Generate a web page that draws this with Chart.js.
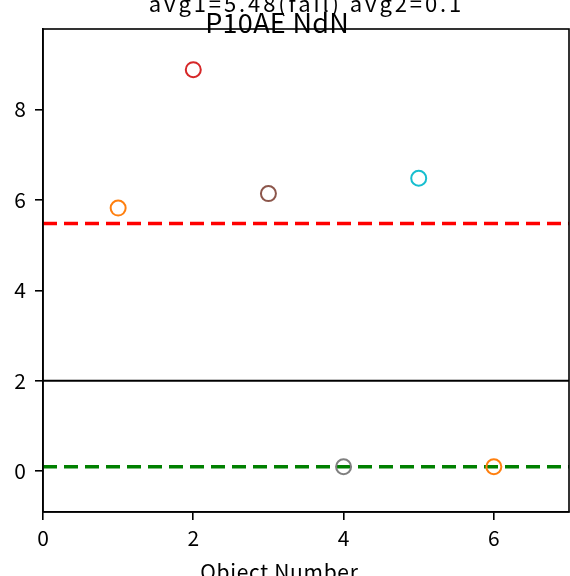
<!DOCTYPE html>
<html>
<head>
<meta charset="utf-8">
<script src="https://cdn.jsdelivr.net/npm/chart.js@4/dist/chart.umd.min.js"></script>
<style>
	body { margin: 0; background: #fff; overflow: hidden; }
	canvas { display: block; }
</style>
</head>
<body>
<canvas id="scatterChart" width="570" height="576"></canvas>
<script>
// values
const objectNumbers = [1, 2, 3, 4, 5, 6];
const objectValues = [5.82, 8.88, 6.14, 0.1, 6.48, 0.1];
const avg1 = 5.48;
const avg2 = 0.1;
const limitValue = 2;
const xTickValues = [0, 2, 4, 6];
const yTickValues = [0, 2, 4, 6, 8];
const titleTop = 'avg1=5.48(fail) avg2=0.1';
const titleMain = 'P10AE NdN';
const xLabel = 'Object Number';

const pointColors = ['#ff7f0e', '#d62728', '#8c564b', '#7f7f7f', '#17becf', '#ff7f0e'];
const fontFamily = '"Noto Sans CJK JP", "Noto Sans", sans-serif';

window.onload = function () {
	const xMin = 0, xMax = 7;
	const points = objectNumbers.map((x, i) => ({ x: x, y: objectValues[i] }));
	const hLine = v => [{ x: xMin, y: v }, { x: xMax, y: v }];

	const drawSpaced = (ctx, text, cx, y, spacing) => {
		ctx.letterSpacing = spacing + 'px';
		const w = ctx.measureText(text).width - spacing;
		ctx.textAlign = 'left';
		ctx.fillText(text, cx - w / 2, y);
		ctx.letterSpacing = '0px';
	};

	const textPlugin = {
		id: 'textPlugin',
		afterDraw(chart) {
			const ctx = chart.ctx;
			const a = chart.chartArea;
			ctx.save();
			ctx.strokeStyle = '#000';
			ctx.lineWidth = 1.6;
			ctx.strokeRect(a.left, a.top, a.right - a.left, a.bottom - a.top);
			ctx.fillStyle = '#000';
			ctx.textBaseline = 'alphabetic';
			ctx.font = '22px ' + fontFamily;
			drawSpaced(ctx, titleTop, 305, 12, 2.9);
			ctx.font = '27px ' + fontFamily;
			drawSpaced(ctx, titleMain, 277, 33, 0.3);
			ctx.font = '21px ' + fontFamily;
			drawSpaced(ctx, xLabel, 279, 580, 0.7);
			ctx.restore();
		}
	};

	new Chart(document.getElementById('scatterChart'), {
		type: 'scatter',
		data: {
			datasets: [
				{
					label: 'values',
					data: points,
					pointStyle: 'circle',
					pointRadius: 7.5,
					pointBorderWidth: 2,
					pointBackgroundColor: 'rgba(0,0,0,0)',
					pointBorderColor: pointColors,
					order: 0
				},
				{
					label: 'avg1',
					data: hLine(avg1),
					showLine: true,
					pointRadius: 0,
					borderColor: '#ff0000',
					borderWidth: 3.5,
					borderDash: [14, 7],
					order: 1
				},
				{
					label: 'avg2',
					data: hLine(avg2),
					showLine: true,
					pointRadius: 0,
					borderColor: '#008000',
					borderWidth: 3.5,
					borderDash: [14, 7],
					order: 1
				},
				{
					label: 'limit',
					data: hLine(limitValue),
					showLine: true,
					pointRadius: 0,
					borderColor: '#000',
					borderWidth: 2,
					order: 1
				}
			]
		},
		options: {
			responsive: false,
			animation: false,
			layout: { autoPadding: false, padding: { top: 29, right: 1, left: 0, bottom: 0 } },
			plugins: {
				legend: { display: false },
				tooltip: { enabled: false },
				title: { display: false }
			},
			scales: {
				x: {
					type: 'linear',
					min: xMin,
					max: xMax,
					afterBuildTicks: s => { s.ticks = xTickValues.map(v => ({ value: v })); },
					afterFit: s => { s.height = 64; },
					grid: { drawOnChartArea: false, drawTicks: true, tickLength: 8, color: '#000', lineWidth: 1.6 },
					border: { display: true, color: '#000', width: 1.6 },
					ticks: { color: '#000', font: { family: fontFamily, size: 21 }, padding: 5, maxRotation: 0 }
				},
				y: {
					type: 'linear',
					min: -0.9,
					max: 9.78,
					afterBuildTicks: s => { s.ticks = yTickValues.map(v => ({ value: v })); },
					afterFit: s => { s.width = 43; },
					grid: { drawOnChartArea: false, drawTicks: true, tickLength: 8, color: '#000', lineWidth: 1.6 },
					border: { display: true, color: '#000', width: 1.6 },
					ticks: { color: '#000', font: { family: fontFamily, size: 21 }, padding: 9 }
				}
			}
		},
		plugins: [textPlugin]
	});
};
</script>
</body>
</html>
